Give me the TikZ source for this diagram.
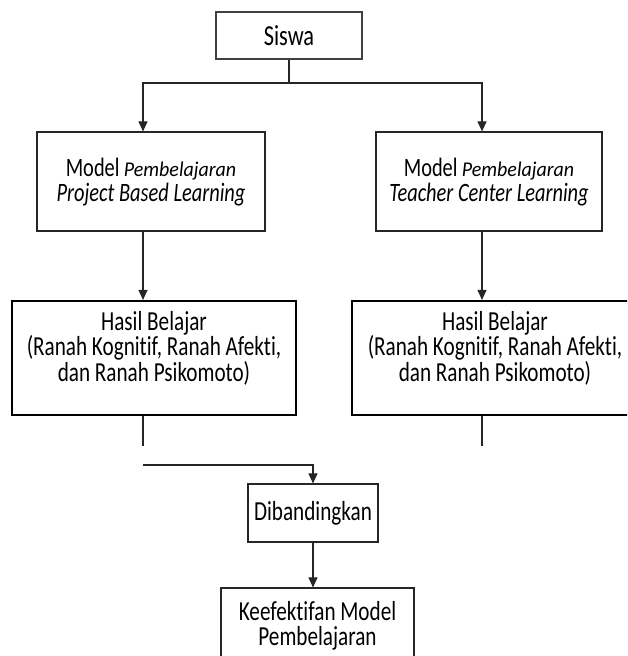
\documentclass[tikz,border=0pt]{standalone}
\usepackage{fontspec}
\setmainfont{Carlito}[FakeStretch=0.77,Ligatures=CommonOff]
\newfontfamily\widefont{Carlito}[FakeStretch=0.95,Ligatures=CommonOff]
\usetikzlibrary{arrows.meta}
\begin{document}
\begin{tikzpicture}[x=1pt,y=-1pt,
  box/.style={draw=black!85,line width=1.2pt,inner sep=0pt},
  thickbox/.style={draw=black,line width=2.2pt,inner sep=0pt},
  txt/.style={align=center,inner sep=0pt,font=\fontsize{27.5}{25.5}\selectfont},
  modeltxt/.style={txt,font=\fontsize{26.5}{25.5}\selectfont},
  conn/.style={draw=black!85,line width=1.1pt},
  arr/.style={conn,-{Triangle[length=10pt,width=9pt]}}]
\useasboundingbox (0,0) rectangle (627,656);
\clip (0,0) rectangle (627,656);
% boxes
\node[box,draw=black!75,minimum width=146pt,minimum height=47pt,txt,font=\fontsize{29}{25}\selectfont] (siswa) at (289,35.5) {Siswa};
\node[box,minimum width=228pt,minimum height=99pt] (m1) at (151,181.5) {};
\node[modeltxt] (m1t) at (151,182) {Model\,{\widefont\itshape\fontsize{21}{25.5}\selectfont Pembelajaran}\\ \itshape Project Based Learning};
\node[box,minimum width=226pt,minimum height=99pt] (m2) at (489,181.5) {};
\node[modeltxt] (m2t) at (489,182) {Model\,{\widefont\itshape\fontsize{21}{25.5}\selectfont Pembelajaran}\\ \itshape Teacher Center Learning};
\node[thickbox,minimum width=284pt,minimum height=114pt] (h1) at (154,358) {};
\node[txt] (h1t) at (154,348) {Hasil Belajar\\(Ranah Kognitif, Ranah Afekti,\\dan Ranah Psikomoto)};
\node[thickbox,minimum width=288pt,minimum height=114pt] (h2) at (496,358) {};
\node[txt] (h2t) at (495,348) {Hasil Belajar\\(Ranah Kognitif, Ranah Afekti,\\dan Ranah Psikomoto)};
\node[box,minimum width=130pt,minimum height=58pt,txt] (dib) at (313,513) {Dibandingkan};
\node[box,minimum width=193pt,minimum height=112pt] (kef) at (317.5,644) {};
\node[txt] (keft) at (317.5,626) {Keefektifan Model\\Pembelajaran};
% coordinates
\coordinate (j) at (289,83);
\coordinate (e1) at (143,446);
\coordinate (e2) at (482,446);
\coordinate (s1) at (143,465);
% connectors
\draw[conn] (siswa.south) -- (j);
\draw[arr] (j) -| (m1.north -| e1);
\draw[arr] (j) -| (m2.north -| e2);
\draw[arr] (m1.south -| e1) -- (h1.north -| e1);
\draw[arr] (m2.south -| e2) -- (h2.north -| e2);
\draw[conn] (h1.south -| e1) -- (e1);
\draw[conn] (h2.south -| e2) -- (e2);
\draw[arr] (s1) -| (dib.north);
\draw[arr] (dib.south) -- (dib.south |- kef.north);
\end{tikzpicture}
\end{document}
